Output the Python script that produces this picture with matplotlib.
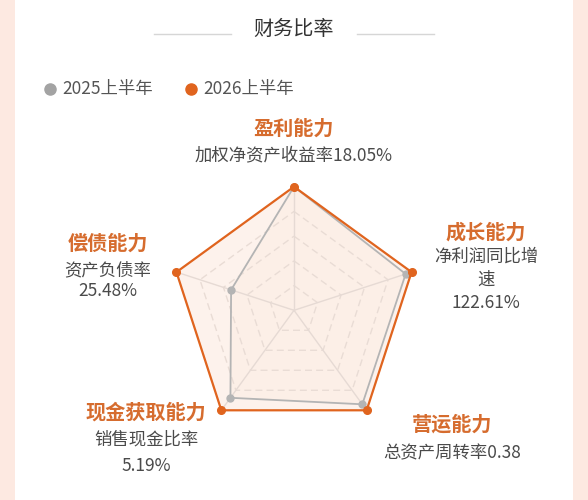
import numpy as np
import matplotlib
matplotlib.use("Agg")
import matplotlib.pyplot as plt
from matplotlib.patches import Rectangle

plt.rcParams['font.family'] = ['Noto Sans CJK SC', 'DejaVu Sans']

# ---- data ----
title = "财务比率"
series_names = ["2025上半年", "2026上半年"]
categories = ["盈利能力", "成长能力", "营运能力", "现金获取能力", "偿债能力"]
indicator_lines = [
    ["加权净资产收益率18.05%"],
    ["净利润同比增", "速", "122.61%"],
    ["总资产周转率0.38"],
    ["销售现金比率", "5.19%"],
    ["资产负债率", "25.48%"],
]
values_2025 = [1.0, 0.95, 0.94, 0.875, 0.535]
values_2026 = [1.0, 1.0, 1.0, 1.0, 1.0]
grid_levels = [0.2, 0.4, 0.6, 0.8, 1.0]

# ---- style ----
W, H = 588, 500
ORANGE = "#E0641E"
LABEL_ORANGE = "#D66C2E"
GRAY = "#B4B4B4"
LEG_GRAY = "#A3A3A3"
TEXT = "#4A4A4A"
BG_SIDE = "#FDE9E1"

fig = plt.figure(figsize=(W / 100, H / 100), dpi=100)
fig.patch.set_facecolor("white")

def fx(x):
    return x / W

def fy(y):
    return 1 - y / H

# side strips
fig.patches.append(Rectangle((0, 0), fx(15), 1, transform=fig.transFigure,
                             facecolor=BG_SIDE, edgecolor="none", zorder=0))
fig.patches.append(Rectangle((fx(573), 0), 1 - fx(573), 1, transform=fig.transFigure,
                             facecolor=BG_SIDE, edgecolor="none", zorder=0))

# title + lines
fig.text(fx(294), fy(29), title, ha="center", va="center", fontsize=14.5, color="#333333")
fig.add_artist(plt.Line2D([fx(154), fx(231)], [fy(34), fy(34)], color="#D6D6D6", lw=1,
                          transform=fig.transFigure))
fig.add_artist(plt.Line2D([fx(357), fx(434)], [fy(34), fy(34)], color="#D6D6D6", lw=1,
                          transform=fig.transFigure))

# legend
for (dx, tx), name, col in zip([(50, 62), (191, 203)], series_names, [LEG_GRAY, ORANGE]):
    fig.add_artist(plt.Line2D([fx(dx)], [fy(89)], marker="o", markersize=8, color=col,
                              markeredgecolor=col, transform=fig.transFigure, linestyle="none"))
    fig.text(fx(tx), fy(89), name, ha="left", va="center", fontsize=12.5, color="#555555")

# radar axes
R = 123.6
cx, cy = 294, 310.3
lim = 1.15
size = 2 * lim * R
ax = fig.add_axes([fx(cx - size / 2), fy(cy + size / 2), size / W, size / H])
ax.set_xlim(-lim, lim)
ax.set_ylim(-lim, lim)
ax.set_aspect("equal")
ax.axis("off")

n = len(categories)
ang = np.pi / 2 - np.arange(n) * 2 * np.pi / n

def xy(vals):
    v = np.asarray(vals, dtype=float)
    x = v * np.cos(ang)
    y = v * np.sin(ang)
    return np.append(x, x[0]), np.append(y, y[0])

# series fill
x6, y6 = xy(values_2026)
ax.fill(x6, y6, color="#FDF2EC", lw=0, zorder=0.5)
x5, y5 = xy(values_2025)
ax.fill(x5, y5, color=ORANGE, alpha=0.02, lw=0, zorder=0.6)

# grid
for lvl in grid_levels:
    gx, gy = xy([lvl] * n)
    ax.plot(gx, gy, color="#E9DCD5", lw=1, linestyle=(0, (5, 3)), zorder=1)
for a in ang:
    ax.plot([0, np.cos(a)], [0, np.sin(a)], color="#E6DAD4", lw=1, zorder=1)

# series lines
ax.plot(x5, y5, color=GRAY, lw=1.3, zorder=3)
ax.plot(x5[:-1], y5[:-1], "o", color=GRAY, markersize=5, zorder=4)
ax.plot(x6, y6, color=ORANGE, lw=1.6, zorder=5)
ax.plot(x6[:-1], y6[:-1], "o", color=ORANGE, markersize=5.5, zorder=6)

# labels
label_pos = [
    (294, [128, 155]),
    (486, [232, 257, 280, 303]),
    (452, [424, 453]),
    (146, [412, 440, 466]),
    (108, [243, 270, 291]),
]
for cat, lines, (lx, ys) in zip(categories, indicator_lines, label_pos):
    fig.text(fx(lx), fy(ys[0]), cat, ha="center", va="center", fontsize=14.5,
             color=LABEL_ORANGE, fontweight="bold")
    for ln, yy in zip(lines, ys[1:]):
        fig.text(fx(lx), fy(yy), ln, ha="center", va="center", fontsize=12.5, color=TEXT)

fig.savefig("out.png", dpi=100, facecolor="white")
